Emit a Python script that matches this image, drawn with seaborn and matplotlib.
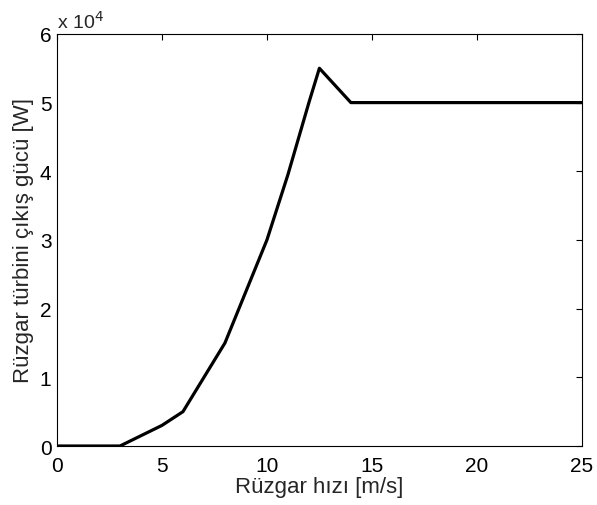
import matplotlib
matplotlib.use('Agg')
import matplotlib.pyplot as plt
import matplotlib.ticker as mticker
import seaborn as sns

# wind speed [m/s] vs turbine output power [W]
wind_speed = [0, 3, 4, 5, 6, 7, 8, 9, 10, 11, 12, 12.5, 14, 25]
power = [0, 0, 1500, 3000, 5000, 10000, 15000, 22500, 30000, 39500, 50000, 55000, 50000, 50000]

x_ticks = [0, 5, 10, 15, 20, 25]
y_ticks = [0, 10000, 20000, 30000, 40000, 50000, 60000]

sns.set_style('white')
plt.rcParams['font.family'] = ['Liberation Sans', 'DejaVu Sans']

fig = plt.figure(figsize=(5.97, 5.06), dpi=100)
ax = fig.add_axes([0.0955, 0.1166, 0.879, 0.8144])

sns.lineplot(x=wind_speed, y=power, color='black', linewidth=2.3, ax=ax)

ax.set_xlim(0, 25)
ax.set_ylim(0, 60000)
ax.set_xticks(x_ticks)
ax.set_yticks(y_ticks)
ax.yaxis.set_major_formatter(mticker.FuncFormatter(lambda v, p: '%g' % (v / 1e4)))

ax.tick_params(direction='in', length=4, width=0.8, labelsize=15, top=True, right=True,
               colors='black')
ax.tick_params(axis='x', pad=7)
ax.tick_params(axis='y', pad=4)
for s in ax.spines.values():
    s.set_color('black')
    s.set_linewidth(0.8)

ax.set_xlabel('Rüzgar hızı [m/s]', fontsize=16, labelpad=1)
ax.set_ylabel('Rüzgar türbini çıkış gücü [W]', fontsize=16, labelpad=4)
ax.text(0.0, 1.006, r'x 10$^4$', transform=ax.transAxes, fontsize=14, ha='left', va='bottom')

fig.savefig('out.png', dpi=100)
